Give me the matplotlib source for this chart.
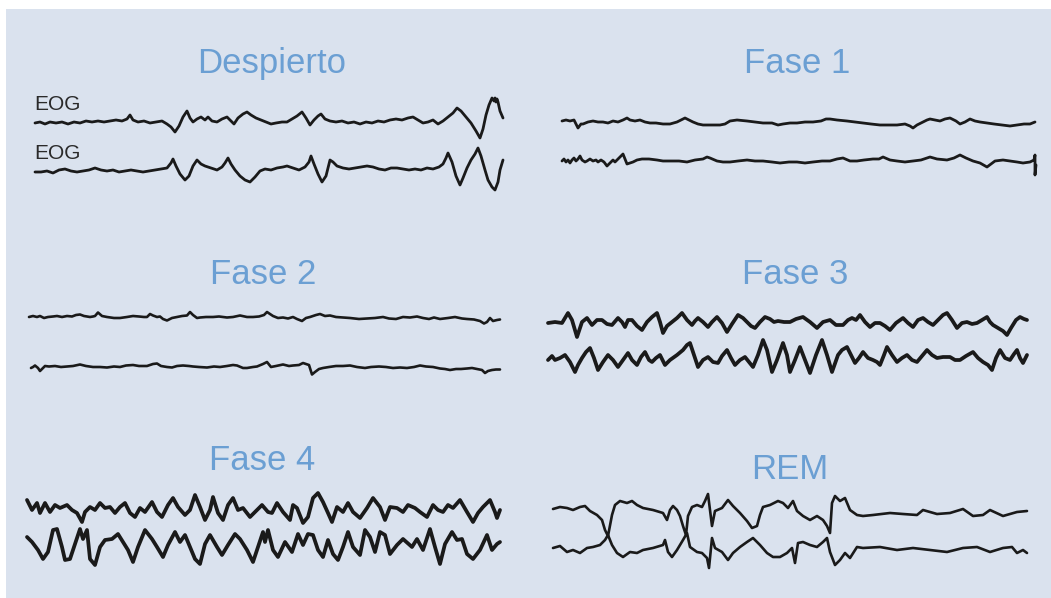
import numpy as np
import matplotlib
matplotlib.use("Agg")
import matplotlib.pyplot as plt
from matplotlib.patches import Rectangle

# EOG traces for each sleep stage: (time sample, amplitude) pairs
despierto_top = [(0,0),(5,1),(10,-1),(15,1),(21,0),(27,1),(33,-1),(39,1),(45,0),(51,2),(57,1),(63,2),(69,1),(75,2),
    (81,3),(87,2),(92,4),(95,8),(98,3),(103,1),(109,2),(115,0),(121,1),(127,2),(132,-1),(136,-4),(140,-9),(144,-3),
    (148,6),(152,12),(155,5),(158,1),(162,4),(166,6),(170,3),(173,6),(177,2),(182,1),(187,4),(192,6),(196,2),(199,-1),
    (203,5),(208,9),(212,11),(216,8),(221,5),(226,3),(231,1),(236,-1),(241,0),(247,1),(252,1),(257,4),(262,7),(267,11),
    (271,5),(275,-2),(279,3),(283,7),(286,9),(290,4),(295,2),(301,1),(307,2),(313,0),(319,1),(325,-1),(331,1),(337,0),
    (343,2),(349,1),(355,3),(361,4),(367,3),(373,5),(378,6),(383,3),(388,0),(393,1),(398,3),(403,-1),(408,2),(413,6),
    (418,10),(422,15),(426,12),(431,6),(436,0),(441,-8),(445,-15),(448,-6),(451,8),(454,18),(457,25),(459,22),(460,25),
    (461,21),(462,24),(463,21),(465,12),(468,5)]
despierto_bot = [(0,0),(6,0),(12,1),(18,-1),(24,2),(30,3),(36,1),(42,0),(48,1),(54,2),(60,4),(66,2),(72,1),(78,2),
    (84,0),(90,1),(96,2),(102,1),(108,0),(114,1),(120,2),(126,3),(132,4),(136,9),(138,13),(141,6),(145,-2),(150,-8),
    (154,-4),(158,6),(162,12),(166,8),(170,6),(176,4),(182,2),(187,5),(190,9),(193,14),(196,8),(200,2),(205,-4),
    (210,-8),(215,-10),(220,-5),(225,1),(230,3),(236,2),(242,4),(248,5),(252,6),(258,4),(264,2),(270,5),(274,10),
    (276,16),(279,8),(283,-2),(287,-10),(291,-4),(295,12),(298,10),(302,6),(308,4),(314,3),(320,4),(326,5),(332,6),
    (338,5),(344,3),(350,2),(356,4),(362,4),(368,3),(374,2),(380,3),(386,2),(392,4),(398,3),(404,5),(408,8),(411,14),
    (413,19),(417,10),(421,-4),(425,-13),(428,-6),(432,4),(436,12),(440,18),(443,24),(446,16),(450,2),(453,-8),
    (457,-15),(460,-18),(463,-10),(465,2),(468,12)]

fase1_top = [(0,1),(4,2),(8,1),(12,2),(16,-6),(19,-2),(21,-2),(26,0),(31,1),(36,0),(41,0),(46,-1),(51,1),(56,0),
    (61,2),(65,4),(68,2),(73,1),(78,2),(83,0),(88,-1),(94,-1),(101,-2),(108,-2),(115,0),(119,2),(123,4),(127,2),
    (131,0),(136,-2),(141,-3),(150,-3),(158,-3),(163,-2),(168,1),(175,2),(185,1),(193,0),(201,-1),(210,-1),(216,-3),
    (221,-2),(228,-1),(235,-1),(243,0),(251,0),(259,1),(264,3),(268,3),(275,2),(285,1),(293,0),(301,-1),(309,-2),
    (318,-3),(326,-3),(335,-3),(343,-2),(348,-4),(351,-6),(355,-3),(361,0),(365,2),(368,3),(373,2),(378,1),(383,3),
    (388,4),(394,1),(398,-2),(403,0),(408,3),(413,1),(418,0),(425,-1),(432,-2),(440,-3),(448,-4),(455,-3),(462,-2),
    (468,-2),(473,0)]
fase1_bot = [(0,0),(2,2),(4,-1),(6,1),(8,-2),(10,1),(12,3),(14,0),(16,2),(18,5),(20,1),(23,-1),(25,0),(28,2),
    (31,0),(34,1),(36,-1),(39,1),(42,-1),(45,-5),(48,-2),(51,1),(53,-1),(55,1),(58,4),(61,7),(63,2),(65,-3),(68,-2),
    (71,-1),(75,1),(80,2),(87,2),(95,1),(101,0),(108,0),(117,0),(125,-1),(133,1),(141,2),(145,4),(148,3),(155,0),
    (161,-1),(168,-1),(176,0),(185,1),(193,0),(201,0),(210,-1),(218,-2),(227,-1),(235,-1),(243,-2),(251,-1),(260,0),
    (268,0),(275,2),(281,3),(288,0),(295,0),(302,1),(311,2),(317,2),(321,4),(328,1),(335,0),(343,-1),(351,0),(359,1),
    (368,4),(375,2),(385,1),(392,3),(398,6),(404,3),(411,0),(418,-2),(425,-6),(429,-3),(433,0),(441,1),(448,0),
    (455,-1),(461,-2),(468,-1),(472,1),(473,6),(473,-14),(474,-4)]

fase2_top = [(0,0),(4,1),(8,0),(11,1),(15,-1),(19,0),(24,0.5),(28,1),(33,0),(38,1),(43,0.5),(47,2),(51,2.5),(55,1),
    (61,0),(64,0.5),(66,1),(69,4.5),(73,1),(78,0),(85,-1),(91,-1),(98,0),(104,1),(110,0.5),(115,0),(118,0),(121,3),
    (124,1.5),(128,0),(131,0.5),(134,-2),(138,-3.5),(143,-1),(148,0),(153,1),(158,1.5),(161,5),(164,2),(168,-1),
    (171,-0.5),(177,0),(184,0),(190,0.5),(198,-0.5),(204,0),(211,1.5),(218,0),(224,0),(230,0.5),(235,2),(238,5),
    (241,3),(244,1),(249,-1),(254,-0.5),(259,-1.5),(264,0),(268,-2),(273,-4),(277,-1),(281,0),(287,2),(291,3),(296,1),
    (301,1.5),(307,0),(314,-0.5),(321,-1),(330,-2),(338,-1.5),(346,-1),(354,0),(360,-1.5),(367,-2),(374,0),(381,-0.5),
    (388,0.5),(394,-1),(400,-2),(405,-0.5),(411,-2),(419,-1),(426,0),(433,-1.5),(438,-2),(445,-2.5),(451,-4),
    (455,-6.5),(458,-5),(461,-1),(464,-4),(468,-3),(471,-2.5)]
fase2_bot = [(0,-1),(2,0),(4,1.5),(7,-1),(9,-4),(11,-2),(14,1),(18,0.5),(24,1),(30,0),(36,0.5),(42,1),(49,2.5),(55,1),
    (62,0),(69,0),(76,-0.5),(83,0.5),(89,0),(95,1.5),(102,2),(108,1),(116,1),(122,3),(126,3.5),(130,1),(136,0),
    (141,-0.5),(146,1),(152,1.5),(158,1),(162,0.5),(168,0),(176,-0.5),(183,0.5),(189,0),(196,1),(202,2),(206,1.5),
    (212,-1),(216,-1),(222,0),(226,0.5),(232,3),(236,5),(240,0),(245,1),(252,2.5),(258,1),(262,1.5),(268,2),(272,4),
    (275,3),(278,2),(281,-7.5),(284,-5),(288,-2),(292,-1),(298,0),(305,1),(312,1),(319,1.5),(326,0),(334,-1),(340,0),
    (348,0.5),(355,0),(362,-1),(369,-0.5),(376,-1),(383,0),(389,1.5),(395,0.5),(402,0),(409,-1.5),(414,-2),(419,-3),
    (425,-2),(430,-2),(436,-1.5),(441,-1),(446,-2),(451,-3),(454,-6),(457,-4),(461,-3),(465,-2.5),(469,-2.5)]

fase3_top = [(0,0),(7,1),(14,0),(20,10),(24,3),(29,-14),(34,1),(39,5),(44,-2),(49,3),(54,3),(59,-1),(64,-2),(70,5),
    (74,1),(77,-4),(80,3),(84,3),(89,-3),(94,-7),(99,1),(104,6),(109,10),(112,1),(115,-10),(119,-3),(124,1),(129,5),
    (134,10),(139,3),(144,-2),(147,2),(150,5),(155,1),(160,-4),(164,1),(169,6),(174,0),(179,-9),(184,-1),(190,8),
    (195,5),(200,0),(203,-3),(207,-5),(212,1),(217,6),(222,4),(226,1),(230,2),(236,1),(242,1),(248,4),(255,6),(262,1),
    (269,-5),(275,1),(282,3),(288,-2),(295,-2),(300,3),(304,5),(308,3),(312,8),(317,1),(322,-4),(327,0),(332,0),
    (337,-3),(342,-7),(348,0),(355,5),(360,0),(365,-4),(370,3),(375,5),(380,1),(385,-2),(390,3),(395,8),(399,10),
    (404,3),(409,-5),(414,0),(419,1),(424,-1),(429,0),(434,3),(439,6),(442,1),(445,-2),(450,-5),(455,-8),(459,-12),
    (463,-5),(468,3),(472,6),(476,4),(479,3)]
fase3_bot = [(0,-2),(4,2),(7,-2),(12,0),(17,3),(22,-4),(27,-14),(30,-7),(34,0),(38,6),(42,10),(46,0),(50,-12),(55,-4),
    (60,3),(65,-2),(70,-9),(75,-2),(80,5),(84,-2),(89,-7),(93,1),(97,6),(101,-2),(104,-4),(108,0),(112,3),(117,-7),
    (122,-2),(129,3),(135,8),(139,13),(142,15),(146,3),(150,-9),(155,-2),(160,1),(165,-4),(170,-5),(174,2),(179,8),
    (183,0),(187,-7),(192,-2),(197,1),(201,-4),(205,-9),(210,3),(215,18),(219,8),(224,-14),(229,-2),(235,15),(239,3),
    (242,-14),(247,-2),(252,11),(257,-2),(262,-15),(268,3),(274,18),(279,3),(284,-14),(290,3),(294,8),(299,11),(303,3),
    (307,-5),(311,0),(315,6),(320,0),(325,-2),(329,-4),(332,-7),(336,3),(339,11),(344,3),(349,-4),(354,0),(359,3),
    (364,-2),(369,-4),(374,2),(379,8),(384,3),(389,0),(395,1),(402,1),(407,-2),(412,-2),(418,2),(425,6),(430,0),
    (435,-4),(440,-7),(444,-12),(448,0),(452,8),(457,0),(462,-2),(466,4),(469,8),(472,0),(475,-5),(479,3)]

fase4_top = [(0,10),(5,0),(10,7),(13,-3),(18,7),(23,-2),(28,5),(33,2),(40,5),(45,0),(50,-3),(55,-12),(58,-2),(63,3),
    (68,0),(73,7),(78,2),(83,3),(88,-3),(93,3),(98,7),(103,-3),(108,-7),(113,2),(118,-2),(125,8),(130,-2),(135,-7),
    (141,5),(146,12),(151,3),(158,-5),(163,0),(168,15),(173,3),(178,-10),(183,0),(186,13),(191,-3),(196,-10),(201,5),
    (206,12),(211,0),(216,2),(223,-7),(230,0),(235,5),(241,-2),(245,-3),(250,7),(256,-2),(263,-10),(266,5),(270,2),
    (276,-13),(281,-7),(286,12),(291,17),(296,8),(301,-3),(305,-12),(310,3),(316,-2),(321,7),(326,-2),(333,-8),(340,2),
    (346,12),(353,3),(358,-10),(363,3),(370,2),(376,-2),(381,5),(388,2),(393,-2),(400,-7),(406,5),(411,0),(416,-2),
    (421,5),(426,2),(433,10),(440,-2),(446,-12),(451,-3),(456,3),(463,10),(468,-2),(470,-8),(473,0)]
fase4_bot = [(0,10),(5,5),(11,-3),(16,-12),(21,-5),(26,17),(30,18),(35,0),(38,-13),(43,-12),(48,3),(53,18),(56,8),
    (60,17),(63,-12),(68,-18),(73,0),(78,7),(85,8),(91,13),(96,5),(101,-3),(106,-15),(111,0),(118,17),(125,8),(130,0),
    (136,-10),(141,2),(148,15),(153,5),(158,12),(163,0),(168,-12),(173,-17),(178,3),(183,12),(190,0),(195,-8),(201,2),
    (208,13),(213,8),(220,-3),(226,-15),(231,0),(236,15),(238,5),(241,17),(246,-3),(251,-10),(258,5),(265,-5),
    (271,13),(276,2),(281,13),(286,12),(291,-3),(296,-10),(301,7),(306,-7),(311,-13),(316,0),(321,15),(326,0),(333,-8),
    (338,17),(343,10),(348,-5),(353,15),(358,12),(363,-7),(370,2),(376,8),(385,0),(390,8),(396,-3),(403,18),(408,0),
    (413,-17),(418,3),(425,15),(430,7),(435,8),(440,-7),(446,-12),(453,-3),(460,12),(465,-3),(470,3),(473,5)]

rem_top = [(0,4),(7,6),(14,5),(20,3),(27,6),(32,7),(37,2),(44,-2),(49,-7),(52,-17),(55,-23),(59,-2),(62,8),(67,12),
    (74,10),(79,12),(84,8),(90,5),(100,3),(110,0),(114,-7),(117,3),(120,7),(124,3),(127,-3),(130,-13),(133,-22),
    (135,-3),(139,6),(144,8),(149,6),(152,12),(155,19),(159,-13),(162,2),(169,5),(175,13),(180,7),(187,0),(194,-8),
    (199,-15),(204,-13),(207,-2),(210,6),(217,8),(225,12),(230,10),(235,5),(240,12),(244,2),(250,-3),(257,-7),
    (264,-3),(270,-7),(274,-13),(277,-20),(279,10),(282,17),(287,12),(292,15),(297,3),(304,-2),(310,-3),(320,-2),
    (337,0),(350,-1),(364,-2),(370,3),(384,-1),(397,0),(410,4),(420,-3),(430,-2),(437,3),(450,-3),(464,1),(474,2)]
rem_bot = [(0,2),(7,4),(14,-2),(20,0),(27,-3),(34,2),(40,3),(47,5),(52,10),(55,15),(59,5),(64,-3),(70,-7),(77,-2),
    (84,-3),(90,0),(100,2),(110,5),(112,10),(115,-2),(119,-7),(124,0),(130,10),(134,17),(137,3),(144,-2),(149,-3),
    (154,-8),(156,-18),(159,12),(162,2),(169,-2),(175,-10),(180,-3),(187,3),(194,8),(200,12),(207,5),(214,-3),
    (220,-7),(227,-7),(234,-3),(239,2),(242,-13),(245,7),(250,8),(257,5),(264,3),(270,8),(274,12),(277,-2),(282,-15),
    (287,-10),(292,-3),(297,-8),(304,3),(310,2),(327,3),(344,0),(360,2),(377,0),(394,-2),(410,2),(424,3),(437,-2),
    (450,2),(459,3),(464,-3),(470,0),(474,-3)]

stages = ["Despierto", "Fase 1", "Fase 2", "Fase 3", "Fase 4", "REM"]
traces = [(despierto_top, despierto_bot), (fase1_top, fase1_bot), (fase2_top, fase2_bot),
          (fase3_top, fase3_bot), (fase4_top, fase4_bot), (rem_top, rem_bot)]

# layout in pixels: start x of each trace, baselines, title anchor, line width
starts = [(35, 35), (562, 562), (29, 31), (548, 548), (27, 27), (553, 553)]
baselines = [(123, 172), (122, 161), (317, 367), (323, 358), (510, 547), (513, 550)]
title_pos = [(272, 73), (797, 73), (263, 284), (795, 284), (262, 470), (790, 479)]
widths = [2.0, 2.0, 1.9, 2.7, 2.7, 1.9]

W, H = 1051, 598
fig = plt.figure(figsize=(W / 100, H / 100), dpi=100)
fig.patch.set_facecolor("white")
ax = fig.add_axes([0, 0, 1, 1])
ax.set_xlim(0, W)
ax.set_ylim(H, 0)
ax.axis("off")

ax.add_patch(Rectangle((6, 9), W - 6, H - 9, facecolor="#dae2ee", edgecolor="none"))

font = ["Liberation Sans", "DejaVu Sans"]
for name, (top, bot), (xa, xb), (ya, yb), (tx, ty), lw in zip(stages, traces, starts, baselines, title_pos, widths):
    for pts, x0, y0 in ((top, xa, ya), (bot, xb, yb)):
        t, v = np.array(pts, dtype=float).T
        ax.plot(x0 + t, y0 - v, color="#1a1a1a", lw=lw, solid_joinstyle="round", solid_capstyle="round")
    ax.text(tx, ty, name, ha="center", va="baseline", fontsize=25, color="#6b9fd3", family=font)

# channel labels on the awake traces
for y in (110, 159):
    ax.text(34, y, "EOG", ha="left", va="baseline", fontsize=15, color="#2a2a2a", family=font)

fig.savefig("out.png", dpi=100, facecolor=fig.get_facecolor())
